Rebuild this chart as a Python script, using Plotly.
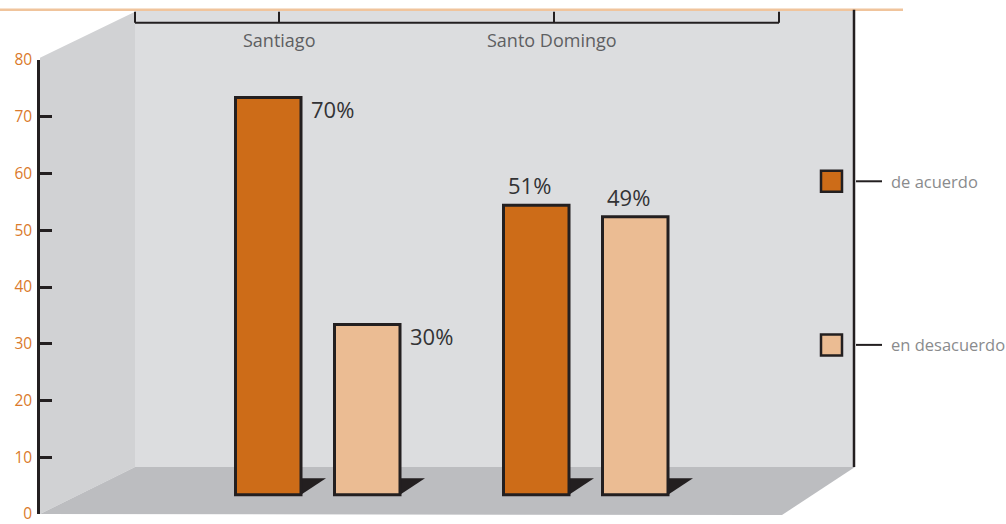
import plotly.graph_objects as go

# ---------------- data ----------------
categories = ["Santiago", "Santo Domingo"]
series_names = ["de acuerdo", "en desacuerdo"]
de_acuerdo = [70, 51]
en_desacuerdo = [30, 49]
y_ticks = [0, 10, 20, 30, 40, 50, 60, 70, 80]

# ---------------- styles / geometry ----------------
colors = ["#CD6C18", "#EBBC93"]
edge = "#231F20"
W, H = 1006, 524
AX_X, Y0_PX, Y80_PX = 40, 514, 60.3
L = AX_X
T = Y80_PX
B = H - Y0_PX
R = 0
PW, PH = W - L - R, H - T - B
U = 268.0           # pixels per category step
X0 = 317.5          # pixel x of first category centre
YS = PH / 80.0      # pixels per y unit
xmin, xmax = (AX_X - X0) / U, (AX_X + PW - X0) / U
depth_base = 3.4    # bars sit on the pseudo-3D floor
bar_w = 65.5 / U
offsets = [-82 / U, 17 / U]
label_side = ["right", "above"]  # per category


def px(x):
    return (x - AX_X) / PW


def py(y):
    return (Y0_PX - y) / PH


font = "Open Sans, Liberation Sans, sans-serif"
xs = list(range(len(categories)))
series = [de_acuerdo, en_desacuerdo]

fig = go.Figure()
for name, vals, col, off in zip(series_names, series, colors, offsets):
    fig.add_trace(go.Bar(
        x=xs, y=vals, base=[depth_base] * len(vals), name=name,
        width=bar_w, offset=off,
        marker=dict(color=col, line=dict(color=edge, width=3)),
        showlegend=False, hoverinfo="skip",
    ))

shapes = []
# left wall
shapes.append(dict(type="path", xref="paper", yref="paper", layer="below",
                   path=f"M {px(40)},{py(58)} L {px(135)},{py(12)} L {px(135)},{py(467)} L {px(40)},{py(514)} Z",
                   fillcolor="#D1D2D4", line=dict(width=0)))
# back wall
shapes.append(dict(type="rect", xref="paper", yref="paper", layer="below",
                   x0=px(135), x1=px(855), y0=py(467), y1=py(11),
                   fillcolor="#DCDDDF", line=dict(width=0)))
# floor
shapes.append(dict(type="path", xref="paper", yref="paper", layer="below",
                   path=f"M {px(40)},{py(514)} L {px(135)},{py(467)} L {px(855)},{py(467)} L {px(782)},{py(515)} Z",
                   fillcolor="#BCBDC0", line=dict(width=0)))
# bar shadows (computed from data positions)
dx = 25 / U
dh = 16.5 / YS
for vals, off in zip(series, offsets):
    for xi, v in zip(xs, vals):
        xr = xi + off + bar_w
        shapes.append(dict(type="path", xref="x", yref="y", layer="below",
                           path=f"M {xr},{depth_base + dh} L {xr + dx},{depth_base + dh} L {xr},{depth_base} Z",
                           fillcolor=edge, line=dict(width=0)))
# top orange line
shapes.append(dict(type="line", xref="paper", yref="paper", x0=px(0), x1=px(903), y0=py(10), y1=py(10),
                   line=dict(color="#F0C49C", width=2.5)))
# right vertical line
shapes.append(dict(type="line", xref="paper", yref="paper", x0=px(854), x1=px(854), y0=py(10), y1=py(467),
                   line=dict(color=edge, width=2.5)))
# top axis
shapes.append(dict(type="line", xref="paper", yref="paper", x0=px(135), x1=px(779), y0=py(23), y1=py(23),
                   line=dict(color=edge, width=2)))
for tx in [135, 279, 554, 779]:
    shapes.append(dict(type="line", xref="paper", yref="paper", x0=px(tx), x1=px(tx), y0=py(12), y1=py(23),
                       line=dict(color=edge, width=2)))
# legend ticks & swatches
legend_y = [181.5, 345]
for ly, col in zip(legend_y, colors):
    shapes.append(dict(type="line", xref="paper", yref="paper", x0=px(856), x1=px(882), y0=py(ly), y1=py(ly),
                       line=dict(color=edge, width=2)))
    shapes.append(dict(type="rect", xref="paper", yref="paper", x0=px(821), x1=px(842),
                       y0=py(ly + 10.5), y1=py(ly - 10.5),
                       fillcolor=col, line=dict(color=edge, width=2.5)))

annotations = []
# top category labels
cat_label_px = [279, 552]
for c, cx in zip(categories, cat_label_px):
    annotations.append(dict(xref="paper", yref="paper", x=px(cx), y=py(40), text=c, showarrow=False,
                            xanchor="center", yanchor="middle",
                            font=dict(family=font, size=18, color="#5E5F62")))
# legend labels
for n, ly in zip(series_names, legend_y):
    annotations.append(dict(xref="paper", yref="paper", x=px(889), y=py(ly), text=n, showarrow=False,
                            xanchor="left", yanchor="middle",
                            font=dict(family=font, size=16.5, color="#8A8B8D")))
# value labels
for vals, off in zip(series, offsets):
    for xi, v in zip(xs, vals):
        top = depth_base + v
        if label_side[xi] == "right":
            annotations.append(dict(xref="x", yref="y", x=xi + off + bar_w, y=top, text=f"{v}%",
                                    showarrow=False, xanchor="left", yanchor="middle",
                                    xshift=8, yshift=-12,
                                    font=dict(family=font, size=22, color="#333335")))
        else:
            annotations.append(dict(xref="x", yref="y", x=xi + off + bar_w / 2, y=top, text=f"{v}%",
                                    showarrow=False, xanchor="center", yanchor="bottom",
                                    xshift=-7, yshift=3,
                                    font=dict(family=font, size=22, color="#333335")))

fig.update_layout(
    width=W, height=H, autosize=False,
    margin=dict(l=L, r=R, t=T, b=B, pad=0),
    paper_bgcolor="white", plot_bgcolor="rgba(0,0,0,0)",
    barmode="overlay",
    xaxis=dict(range=[xmin, xmax], visible=False, fixedrange=True),
    yaxis=dict(range=[0, 80], tickvals=y_ticks, ticktext=[str(t) for t in y_ticks],
               showgrid=False, zeroline=False, showline=True, linecolor=edge, linewidth=2.5,
               ticks="inside", ticklen=12, tickwidth=2.5, tickcolor=edge,
               tickfont=dict(family=font, size=15.5, color="#DA7A2C"), ticklabelstandoff=2,
               ticklabeloverflow="allow", fixedrange=True),
    shapes=shapes, annotations=annotations,
    showlegend=False,
)

fig.write_html("out.html", config={"displayModeBar": False},
               post_script="document.body.style.margin='0';document.body.style.overflow='hidden';")
